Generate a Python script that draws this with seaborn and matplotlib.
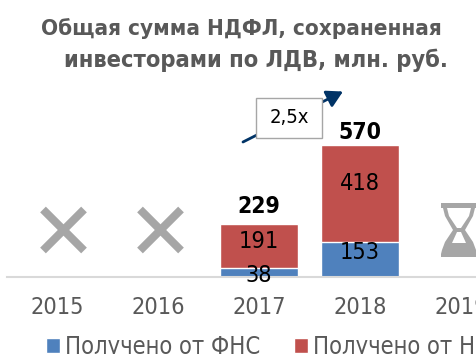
import matplotlib
matplotlib.use("Agg")
import matplotlib.pyplot as plt
from matplotlib.patches import Polygon, Patch
from matplotlib.lines import Line2D
import pandas as pd
import seaborn as sns

sns.set_theme(style="white")
plt.rcParams['font.family'] = ['DejaVu Sans']

title_lines = ["Общая сумма НДФЛ, сохраненная", "инвесторами по ЛДВ, млн. руб."]
years = ["2015", "2016", "2017", "2018", "2019"]
fns = [None, None, 38, 153, None]
ndfl = [None, None, 191, 418, None]
totals = [None, None, 229, 570, None]
series_names = ["Получено от ФНС", "Получено от Н"]
growth = "2,5x"
BLUE, RED = "#4F81BD", "#C0504D"
GRAY = "#A6A6A6"
TEXT = "#595959"
W, H = 477, 354

df = pd.DataFrame({"year": years, "fns": fns, "ndfl": ndfl, "total": totals}).astype({"fns": float, "ndfl": float, "total": float})

fig = plt.figure(figsize=(W/100, H/100), dpi=100)
ax = fig.add_axes([6.5/W, (H-277)/H, 505/W, 277/H])
# stacked: the full-height red layer first, the blue layer on top of it
sns.barplot(data=df, x="year", y="total", order=years, color=RED, saturation=1, width=0.77, ax=ax)
sns.barplot(data=df, x="year", y="fns", order=years, color=BLUE, saturation=1, width=0.77, ax=ax)
ax.set_xlim(-0.5, 4.5)
ax.set_ylim(0, 277/0.2316)
ax.set_xlabel(""); ax.set_ylabel(""); ax.set_yticks([])
for s in ("top", "left", "right"):
    ax.spines[s].set_visible(False)
ax.spines["bottom"].set_color("#D9D9D9")
ax.spines["bottom"].set_linewidth(1.5)
ax.tick_params(axis="x", length=0, pad=14)
for lab in ax.get_xticklabels():
    lab.set(fontsize=16.8, color=TEXT, stretch="condensed")

# label nudges in points, as placed in the original chart
nudge_total = {2: 4, 3: 1}
nudge_ndfl = {2: 3, 3: 7}
nudge_fns = {2: -2, 3: 5}
for i, row in df.iterrows():
    if pd.notna(row["total"]):
        ax.annotate(int(row["total"]), (i, row["total"]), xytext=(0, nudge_total[i]), textcoords="offset points",
                    ha="center", va="bottom", fontsize=16.5, fontweight="bold", stretch="condensed", color="black")
        ax.annotate(int(row["ndfl"]), (i, row["fns"] + row["ndfl"]/2), xytext=(0, nudge_ndfl[i]), textcoords="offset points",
                    ha="center", va="center", fontsize=16.8, stretch="condensed", color="black")
        ax.annotate(int(row["fns"]), (i, row["fns"]/2), xytext=(0, nudge_fns[i]), textcoords="offset points",
                    ha="center", va="center", fontsize=16.8, stretch="condensed", color="black", zorder=5)

def px(x, y):
    return (x/W, 1-y/H)

# "no data" crosses
for cx in (63.5, 160.5):
    for dx in (-20.5, 20.5):
        fig.add_artist(Line2D([(cx-dx)/W, (cx+dx)/W], [1-209.5/H, 1-250.5/H], color=GRAY, lw=5.8, solid_capstyle="butt"))

# hourglass
hx, hy = 459, 230
hour = [(-18,-27),(18,-27),(18,-22),(16,-22),(14,-14),(6,0),(14,12),(17,20),(18,24),(18,27),(-18,27),(-18,24),(-17,20),(-14,12),(-6,0),(-14,-14),(-16,-22),(-18,-22)]
fig.add_artist(Polygon([px(hx+a, hy+b) for a, b in hour], closed=True, transform=fig.transFigure, facecolor=GRAY, edgecolor="none"))
inner_top = [(-12,-22),(12,-22),(10,-14),(2,-2),(-2,-2),(-10,-14)]
inner_bot = [(-2,2),(2,2),(7,13),(-7,13)]
for pts in (inner_top, inner_bot):
    fig.add_artist(Polygon([px(hx+a, hy+b) for a, b in pts], closed=True, transform=fig.transFigure, facecolor="white", edgecolor="none"))

# growth arrow + box
ax.annotate("", xy=px(343, 91.5), xytext=px(243, 142), xycoords="figure fraction", textcoords="figure fraction",
            arrowprops=dict(arrowstyle="-|>,head_length=0.8,head_width=0.45", color="#003366", lw=2, shrinkA=0, shrinkB=0))
fig.add_artist(plt.Rectangle(px(256, 137.5), 65.5/W, 39.5/H, transform=fig.transFigure, facecolor="white", edgecolor="#A6A6A6", lw=1, zorder=9))
fig.text(*px(289, 118), growth, ha="center", va="center", fontsize=14.5, stretch="condensed", color="black", zorder=10)

fig.text(*px(241.5, 29), title_lines[0], ha="center", va="center", fontsize=16.1, fontweight="bold", stretch="condensed", color=TEXT)
fig.text(*px(256, 60), title_lines[1], ha="center", va="center", fontsize=16.9, fontweight="bold", stretch="condensed", color=TEXT)

handles = [Patch(facecolor=BLUE), Patch(facecolor=RED)]
fig.legend(handles, series_names, loc="lower left", bbox_to_anchor=(46/W, -5/H), ncol=2, frameon=False, borderaxespad=0, borderpad=0,
           prop=dict(size=17, stretch="condensed"), labelcolor=TEXT, handlelength=0.6, handleheight=0.6, handletextpad=0.22, columnspacing=1.42)
fig.savefig("out.png", dpi=100)
